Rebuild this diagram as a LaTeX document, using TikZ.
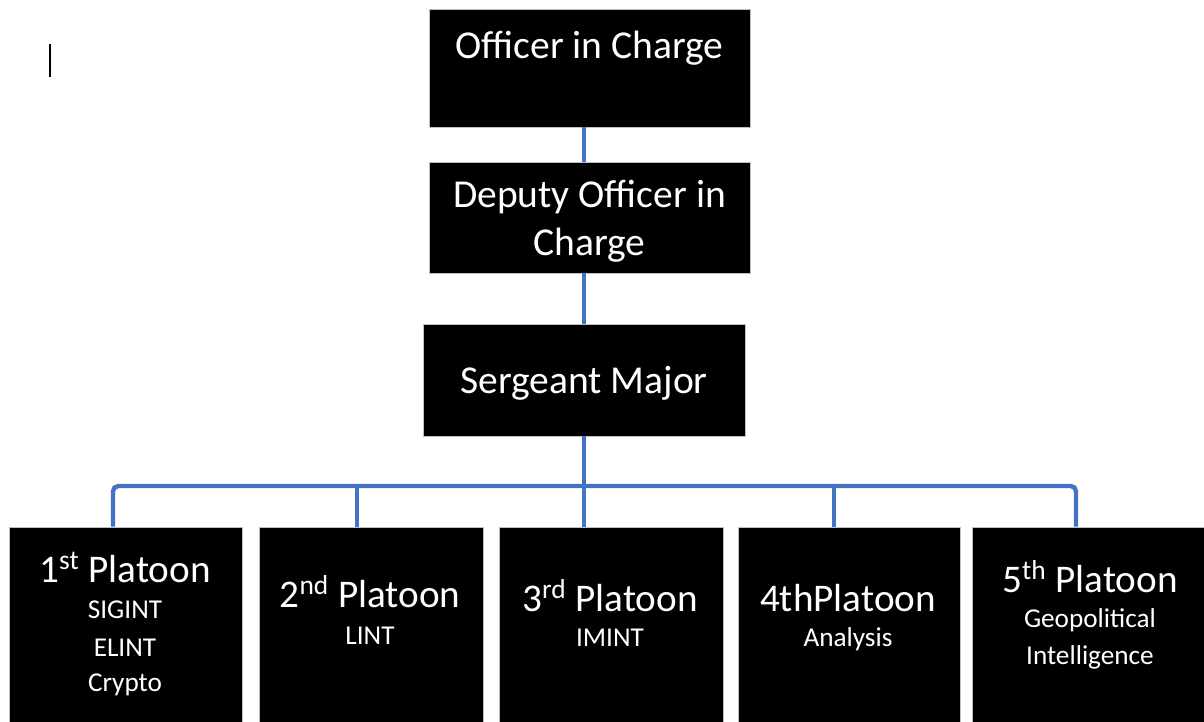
\documentclass[tikz,border=0pt]{standalone}
\usepackage{fontspec}
\setmainfont{Carlito}
\usepackage{tikz}

\definecolor{linkblue}{HTML}{4472C4}

\tikzset{
  unitbox/.style={draw=gray!50, line width=0.45pt, fill=black, rectangle, inner sep=0pt},
  rank/.style={text=white, anchor=base, inner sep=0pt, font=\fontsize{22.5}{27}\selectfont},
  ptitle/.style={text=white, anchor=base, inner sep=0pt, font=\fontsize{22.3}{26}\selectfont},
  psub/.style={text=white, anchor=base, inner sep=0pt, font=\fontsize{15.5}{19}\selectfont},
  link/.style={draw=linkblue, line width=2.5pt}
}

\begin{document}
\begin{tikzpicture}[x=0.02cm, y=-0.02cm]
    \useasboundingbox (0,0) rectangle (1204,722);

    % text cursor
    \draw[line width=1.3pt] (50,44) -- (50,77);

    % Command
    \node[unitbox, minimum width=6.42cm, minimum height=2.36cm] (oic) at (589.5,68) {};
    \node[rank] (oictext) at (589.5,59) {Officer in Charge};

    \node[unitbox, minimum width=6.42cm, minimum height=2.22cm] (doic) at (589.5,217.5) {};
    \node[rank] (doictop) at (589.5,208) {Deputy Officer in};
    \node[rank] (doicbot) at (589.5,256) {Charge};

    \node[unitbox, minimum width=6.44cm, minimum height=2.24cm] (sgm) at (584,380) {};
    \node[rank] (sgmtext) at (584,394) {Sergeant Major};

    % Platoons
    \node[unitbox, minimum width=4.66cm, minimum height=3.98cm] (p1) at (125.5,626.5) {};
    \node[unitbox, minimum width=4.48cm, minimum height=3.98cm] (p2) at (371,626.5) {};
    \node[unitbox, minimum width=4.48cm, minimum height=3.98cm] (p3) at (611,626.5) {};
    \node[unitbox, minimum width=4.44cm, minimum height=3.98cm] (p4) at (849,626.5) {};
    \node[unitbox, minimum width=4.68cm, minimum height=3.98cm] (p5) at (1089,626.5) {};

    \node[ptitle] (p1title) at (125,583) {1\textsuperscript{st} Platoon};
    \node[psub] (p1a) at (125,619) {SIGINT};
    \node[psub] (p1b) at (125,657) {ELINT};
    \node[psub] (p1c) at (125,691) {Crypto};

    \node[ptitle] (p2title) at (370,608) {2\textsuperscript{nd} Platoon};
    \node[psub] (p2a) at (370,644) {LINT};

    \node[ptitle] (p3title) at (610,612) {3\textsuperscript{rd} Platoon};
    \node[psub] (p3a) at (610,646) {IMINT};

    \node[ptitle] (p4title) at (848,612) {4thPlatoon};
    \node[psub] (p4a) at (848,646) {Analysis};

    \node[ptitle] (p5title) at (1090,593) {5\textsuperscript{th} Platoon};
    \node[psub] (p5a) at (1090,628) {Geopolitical};
    \node[psub] (p5b) at (1090,664) {Intelligence};

    % Links
    \coordinate (bus) at (584,486);
    \draw[link] (oic.south -| sgm) -- (doic.north -| sgm);
    \draw[link] (doic.south -| sgm) -- (sgm.north);
    \draw[link] (sgm.south) -- (sgm.south |- p3.north);
    \draw[link, rounded corners=3pt] ([xshift=-0.25cm]p1.north) |- (bus) -| ([xshift=-0.26cm]p5.north);
    \draw[link] ([xshift=-0.28cm]p2.north) -- ([xshift=-0.28cm]p2.north |- bus);
    \draw[link] ([xshift=-0.30cm]p4.north) -- ([xshift=-0.30cm]p4.north |- bus);
\end{tikzpicture}
\end{document}
